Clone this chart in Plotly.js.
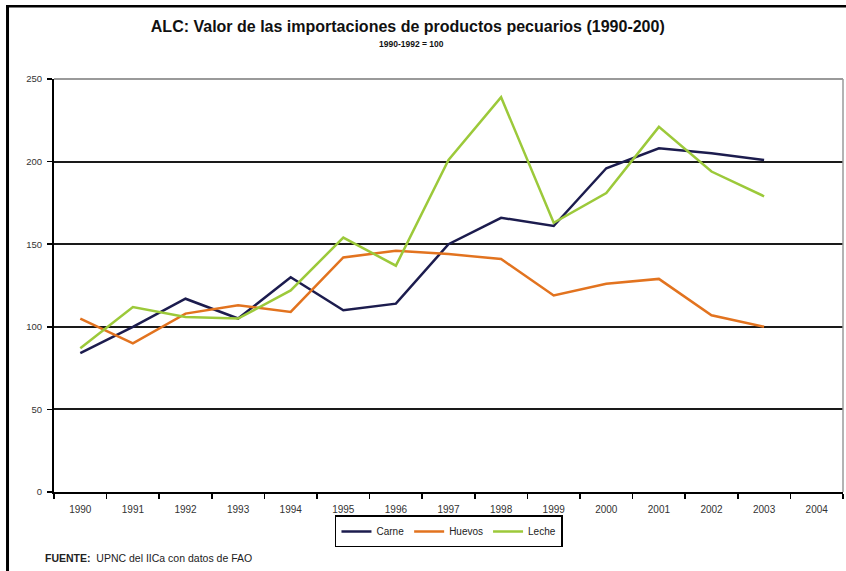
<!DOCTYPE html>
<html>
<head>
<meta charset="utf-8">
<script src="https://cdn.plot.ly/plotly-3.0.1.min.js"></script>
<style>html,body{margin:0;padding:0;background:#fff;}#chart{width:846px;height:571px;}</style>
</head>
<body>
<div id="chart"></div>
<script>
var years = ['1990','1991','1992','1993','1994','1995','1996','1997','1998','1999','2000','2001','2002','2003','2004'];
var carne  = [84, 100, 117, 105, 130, 110, 114, 150, 166, 161, 196, 208, 205, 201, null];
var huevos = [105, 90, 108, 113, 109, 142, 146, 144, 141, 119, 126, 129, 107, 100, null];
var leche  = [87, 112, 106, 105, 122, 154, 137, 201, 239, 163, 181, 221, 194, 179, null];

var font = 'Liberation Sans, Arial, sans-serif';
var traces = [
  {x: years, y: carne, name: 'Carne', type: 'scatter', mode: 'lines', line: {color: '#1c1c4e', width: 2.5}},
  {x: years, y: huevos, name: 'Huevos', type: 'scatter', mode: 'lines', line: {color: '#e2731f', width: 2.5}},
  {x: years, y: leche, name: 'Leche', type: 'scatter', mode: 'lines', line: {color: '#9cc93a', width: 2.5}}
];

var layout = {
  width: 846, height: 571,
  margin: {l: 54, r: 3, t: 79, b: 79},
  paper_bgcolor: '#fff', plot_bgcolor: '#fff',
  font: {family: font, color: '#222'},
  title: {text: '<b>ALC: Valor de las importaciones de productos pecuarios (1990-200)</b>',
          font: {size: 16, family: font, color: '#111'}, x: 0.482, xanchor: 'center', y: 0.953, yanchor: 'middle'},
  showlegend: true,
  legend: {orientation: 'h', x: 0.5006, xanchor: 'center', y: -0.0956, yanchor: 'middle',
           bordercolor: '#000', borderwidth: 1.5, font: {size: 10, family: font, color: '#222'},
           itemwidth: 30, tracegroupgap: 0},
  xaxis: {type: 'category', range: [-0.5, 14.5], tickson: 'boundaries', ticks: 'outside', ticklen: 5,
          tickcolor: '#000', tickwidth: 1.5, showline: true, linecolor: '#000', linewidth: 2,
          ticklabelstandoff: 7,
          showgrid: false, tickfont: {size: 10, family: font, color: '#333'}, fixedrange: true, zeroline: false},
  yaxis: {range: [0, 250], dtick: 50, ticks: 'outside', ticklen: 5, tickcolor: '#000', tickwidth: 1.5,
          showline: true, linecolor: '#000', linewidth: 2, showgrid: true, gridcolor: '#1a1a1a', gridwidth: 2,
          ticklabelstandoff: 3,
          zeroline: false, tickfont: {size: 9.5, family: font, color: '#333'}, fixedrange: true},
  annotations: [
    {text: '<b>1990-1992 = 100</b>', xref: 'paper', yref: 'paper', x: 0.4525, y: 1.0847, xanchor: 'center', yanchor: 'middle',
     showarrow: false, font: {size: 8.5, family: font, color: '#111'}},
    {text: '<b>FUENTE:</b>  UPNC del IICa con datos de FAO', xref: 'paper', yref: 'paper', x: -0.0139, y: -0.16,
     xanchor: 'left', yanchor: 'middle', showarrow: false, font: {size: 10.5, family: font, color: '#222'}}
  ],
  shapes: [
    {type: 'line', xref: 'paper', yref: 'paper', x0: 0, x1: 1, y0: 1, y1: 1, line: {color: '#9a9a9a', width: 2}},
    {type: 'line', xref: 'paper', yref: 'paper', x0: 1, x1: 1, y0: 0, y1: 1, line: {color: '#9a9a9a', width: 1.5}},
    {type: 'rect', xref: 'paper', yref: 'paper', x0: -0.0608, x1: 1.0038, y0: 1.1731, y1: 1.1792, fillcolor: '#000', line: {width: 0}},
    {type: 'rect', xref: 'paper', yref: 'paper', x0: -0.0608, x1: -0.0570, y0: -0.1913, y1: 1.1792, fillcolor: '#000', line: {width: 0}}
  ]
};

Plotly.newPlot('chart', traces, layout, {displayModeBar: false, staticPlot: true});
</script>
</body>
</html>
